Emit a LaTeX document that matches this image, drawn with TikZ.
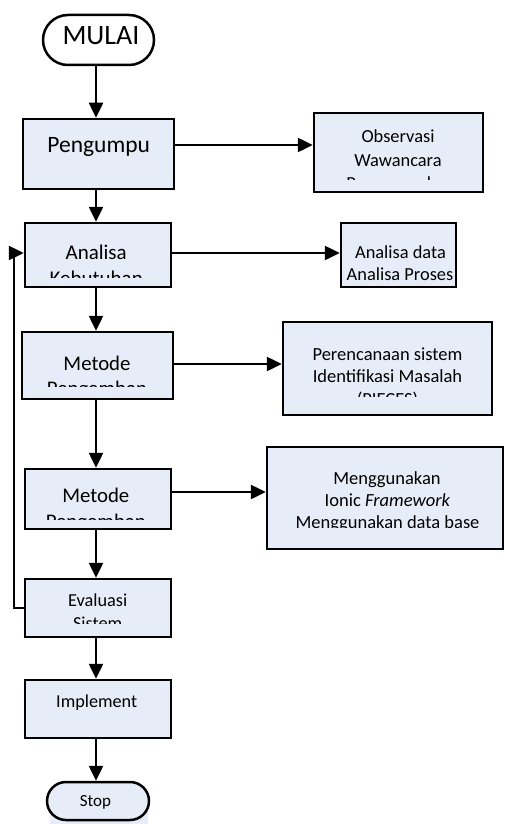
\documentclass[tikz,border=0pt]{standalone}
\usepackage{fontspec}
\setmainfont{Carlito}
\usetikzlibrary{arrows.meta}
\definecolor{boxblue}{RGB}{231,237,248}
\newcommand\fsz[1]{\fontsize{#1}{#1}\selectfont}
\begin{document}
\begin{tikzpicture}[x=1pt,y=-1pt,
  box/.style={draw=black, line width=2.5pt, fill=boxblue, inner sep=0pt},
  arr/.style={line width=2.5pt, -{Triangle[length=15pt,width=14pt]}},
  ln/.style={anchor=base, inner sep=0pt}]
\useasboundingbox (0,0) rectangle (504,824);
% light strip under the Stop terminal
\fill[boxblue] (50,812) rectangle (148,824);
% boxes
\node[box, fill=white, rounded corners=25pt, minimum width=111pt, minimum height=50pt] (mulai) at (98.5,40) {};
\node[box, minimum width=151pt, minimum height=70pt] (pg) at (98.5,154) {};
\node[box, minimum width=169pt, minimum height=79pt] (obs) at (398.5,152.5) {};
\node[box, minimum width=146pt, minimum height=64pt] (an) at (98,255) {};
\node[box, minimum width=115pt, minimum height=64pt] (ad) at (398.5,255) {};
\node[box, minimum width=151pt, minimum height=67pt] (m1) at (97.5,365.5) {};
\node[box, minimum width=209pt, minimum height=93pt] (pr) at (387.5,368.5) {};
\node[box, minimum width=146pt, minimum height=60pt] (m2) at (98,499) {};
\node[box, minimum width=236pt, minimum height=102pt] (mg) at (385,498) {};
\node[box, minimum width=146pt, minimum height=58pt] (ev) at (98,608) {};
\node[box, minimum width=146pt, minimum height=58pt] (im) at (98,709) {};
\node[box, rounded corners=19pt, minimum width=102pt, minimum height=38pt] (st) at (98,801) {};
% texts
\node[ln, font=\fsz{28}] (tmulai) at (101,45) {MULAI};
\node[ln, font=\fsz{23.5}] (tpg) at (98.7,152.5) {Pengumpu};
\begin{scope}
  \clip (316,115) rectangle (481,179.3);
  \node[ln, font=\fsz{18.4}] (tobs1) at (398,142.7) {Observasi};
  \node[ln, font=\fsz{18.4}] (tobs2) at (398,166) {Wawancara};
  \node[ln, font=\fsz{18.4}] (tobs3) at (398,189.5) {Pengumpulan};
\end{scope}
\begin{scope}
  \clip (27,225) rectangle (169,277);
  \node[ln, font=\fsz{21}] (tan1) at (96.2,259.3) {Analisa};
  \node[ln, font=\fsz{21}] (tan2) at (96.2,285) {Kebutuhan};
\end{scope}
\node[ln, font=\fsz{18.4}] (tad1) at (400.5,258.3) {Analisa data};
\node[ln, font=\fsz{18.4}] (tad2) at (400,280) {Analisa Proses};
\begin{scope}
  \clip (24,334) rectangle (171,386);
  \node[ln, font=\fsz{20.8}] (tm11) at (97,370) {Metode};
  \node[ln, font=\fsz{20.8}] (tm12) at (97,395.5) {Pengemban};
\end{scope}
\begin{scope}
  \clip (285,324) rectangle (490,396);
  \node[ln, font=\fsz{18.5}] (tpr1) at (387.5,360) {Perencanaan sistem};
  \node[ln, font=\fsz{18.5}] (tpr2) at (387.5,382.7) {Identifikasi Masalah};
  \node[ln, font=\fsz{18.5}] (tpr3) at (387.5,405.4) {(PIECES)};
\end{scope}
\begin{scope}
  \clip (27,471) rectangle (169,519.3);
  \node[ln, font=\fsz{20.8}] (tm21) at (95.8,502.7) {Metode};
  \node[ln, font=\fsz{20.8}] (tm22) at (95.8,528) {Pengemban};
\end{scope}
\begin{scope}
  \clip (269,449) rectangle (501,527.3);
  \node[ln, font=\fsz{18.5}] (tmg1) at (387,484) {Menggunakan};
  \node[ln, font=\fsz{18.5}] (tmg2) at (387.5,506) {Ionic \textit{Framework}};
  \node[ln, font=\fsz{18.5}] (tmg3) at (387.5,528) {Menggunakan data base};
\end{scope}
\begin{scope}
  \clip (27,581) rectangle (169,623.3);
  \node[ln, font=\fsz{18.3}] (tev1) at (97.7,606.7) {Evaluasi};
  \node[ln, font=\fsz{18.3}] (tev2) at (97.7,629) {Sistem};
\end{scope}
\node[ln, font=\fsz{18.2}] (tim) at (96.7,707.7) {Implement};
\begin{scope}
  \clip (49,784) rectangle (147,808);
  \node[ln, font=\fsz{17}] (tst) at (95.5,806.7) {Stop};
\end{scope}
% vertical connectors
\coordinate (col) at (96,0);
\draw[arr] (col |- mulai.south) -- (col |- pg.north);
\draw[arr] (col |- pg.south) -- (col |- an.north);
\draw[arr] (col |- an.south) -- (col |- m1.north);
\draw[arr] (col |- m1.south) -- (col |- m2.north);
\draw[arr] (col |- m2.south) -- (col |- ev.north);
\draw[arr] (col |- ev.south) -- (col |- im.north);
\draw[arr] (col |- im.south) -- (col |- st.north);
% horizontal connectors
\coordinate (pgout) at ([yshift=9pt]pg.east);
\draw[arr] (pgout) -- (pgout -| obs.west);
\coordinate (anout) at ([yshift=2pt]an.east);
\draw[arr] (anout) -- (anout -| ad.west);
\coordinate (m1out) at ([yshift=1.5pt]m1.east);
\draw[arr] (m1out) -- (m1out -| pr.west);
\coordinate (m2out) at ([yshift=7pt]m2.east);
\draw[arr] (m2out) -- (m2out -| mg.west);
% feedback loop
\coordinate (fbx) at (14,0);
\coordinate (anin) at ([yshift=2pt]an.west);
\draw[arr] (ev.west) -| (anin -| fbx) -- (anin);
\end{tikzpicture}
\end{document}
